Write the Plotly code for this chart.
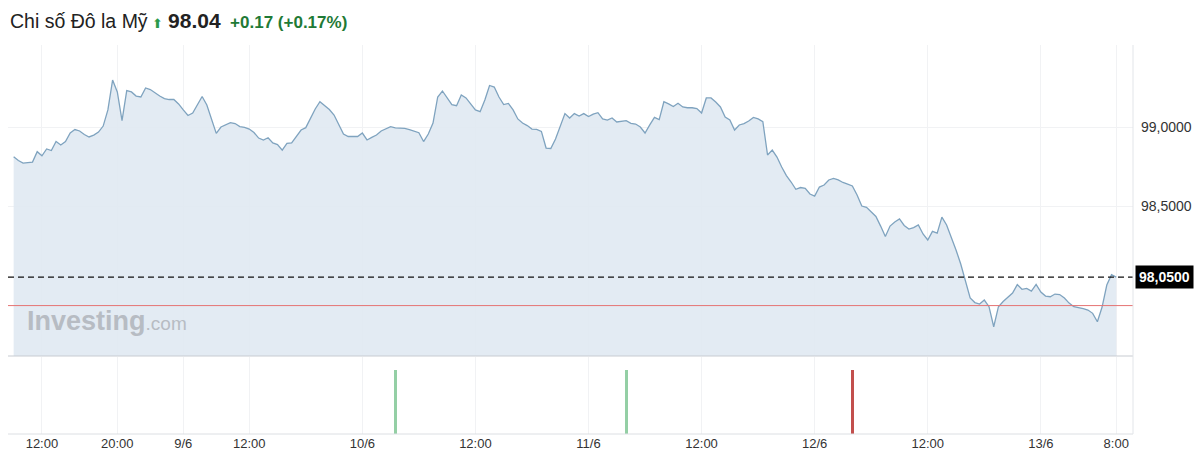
import plotly.graph_objects as go

# US Dollar Index, 30-minute closes; time axis in trading hours from Fri 6/6 12:00
values = [
    98.812, 98.788, 98.772, 98.775, 98.778, 98.844, 98.818, 98.861, 98.851, 98.908,
    98.886, 98.908, 98.962, 98.984, 98.975, 98.953, 98.937, 98.949, 98.968, 99.006,
    99.108, 99.297, 99.222, 99.040, 99.230, 99.222, 99.196, 99.190, 99.247, 99.237,
    99.215, 99.196, 99.180, 99.174, 99.174, 99.146, 99.108, 99.073, 99.089, 99.146,
    99.193, 99.139, 99.044, 98.960, 99.000, 99.016, 99.028, 99.022, 99.003, 98.998,
    98.987, 98.965, 98.930, 98.918, 98.932, 98.899, 98.889, 98.854, 98.897, 98.900,
    98.943, 98.981, 98.996, 99.057, 99.114, 99.160, 99.133, 99.111, 99.076, 99.013,
    98.956, 98.940, 98.940, 98.940, 98.962, 98.918, 98.934, 98.949, 98.975, 98.991,
    99.002, 98.994, 98.992, 98.992, 98.984, 98.975, 98.964, 98.908, 98.956, 99.025,
    99.190, 99.228, 99.184, 99.142, 99.135, 99.203, 99.184, 99.142, 99.108, 99.097,
    99.171, 99.263, 99.253, 99.190, 99.142, 99.149, 99.108, 99.051, 99.025, 99.009,
    98.987, 98.985, 98.972, 98.867, 98.864, 98.924, 99.000, 99.085, 99.057, 99.085,
    99.070, 99.085, 99.066, 99.082, 99.091, 99.051, 99.044, 99.057, 99.032, 99.035,
    99.040, 99.023, 99.019, 99.000, 98.962, 99.013, 99.061, 99.047, 99.160, 99.146,
    99.130, 99.150, 99.127, 99.122, 99.122, 99.117, 99.089, 99.184, 99.184, 99.158,
    99.127, 99.063, 99.044, 98.981, 99.013, 99.022, 99.038, 99.061, 99.051, 99.034,
    98.823, 98.854, 98.810, 98.747, 98.693, 98.652, 98.606, 98.617, 98.612, 98.576,
    98.563, 98.620, 98.633, 98.665, 98.675, 98.665, 98.649, 98.639, 98.627, 98.570,
    98.500, 98.492, 98.462, 98.434, 98.373, 98.307, 98.373, 98.399, 98.418, 98.377,
    98.354, 98.364, 98.380, 98.323, 98.285, 98.340, 98.329, 98.430, 98.380, 98.304,
    98.222, 98.133, 98.025, 97.918, 97.889, 97.880, 97.905, 97.863, 97.736, 97.863,
    97.896, 97.924, 97.949, 98.003, 97.973, 97.979, 97.962, 98.004, 97.956, 97.930,
    97.926, 97.943, 97.940, 97.918, 97.886, 97.863, 97.859, 97.851, 97.842, 97.821,
    97.768, 97.861, 98.000, 98.066, 98.050,
]
start_hour = -3.0
step_hours = 0.5
hours = [start_hour + step_hours * i for i in range(len(values))]

last_price = 98.05
prev_close = 97.87

tick_hours = [0, 8, 15, 22, 34, 46, 58, 70, 82, 94, 106, 114]
tick_labels = ["12:00", "20:00", "9/6", "12:00", "10/6", "12:00", "11/6",
               "12:00", "12/6", "12:00", "13/6", "8:00"]

y_ticks = [98.5, 99.0]
y_tick_labels = ["98,5000", "99,0000"]

vol_hours = [37.5, 62.0, 86.0]
vol_values = [1, 1, 1]
vol_colors = ["#94cfa5", "#94cfa5", "#c24f4d"]

FONT = "Liberation Sans, Arial, sans-serif"

fig = go.Figure()
fig.add_trace(go.Scatter(
    x=hours, y=values, mode="lines",
    line=dict(color="#7fa3bf", width=1.3),
    fill="tozeroy", fillcolor="rgba(224,233,242,0.9)",
    xaxis="x", yaxis="y", hoverinfo="skip", showlegend=False,
))
fig.add_trace(go.Bar(
    x=vol_hours, y=vol_values, width=0.32,
    marker=dict(color=vol_colors, line=dict(width=0)),
    xaxis="x2", yaxis="y2", hoverinfo="skip", showlegend=False,
))

xr = [-3.6, 115.78]
fig.update_layout(
    width=1200, height=475,
    margin=dict(l=8, r=65, t=45, b=41),
    paper_bgcolor="white", plot_bgcolor="white",
    font=dict(family=FONT, color="#333333"),
    xaxis=dict(domain=[0, 1], range=xr, anchor="y", tickvals=tick_hours,
               showticklabels=False, showgrid=True, gridcolor="#f1f2f4",
               gridwidth=1, zeroline=False, showline=False, ticks=""),
    xaxis2=dict(domain=[0, 1], range=xr, anchor="y2", tickvals=tick_hours,
                ticktext=tick_labels, showgrid=True, gridcolor="#f1f2f4",
                zeroline=False, showline=False, ticks="",
                tickfont=dict(size=13, color="#333333", family=FONT)),
    yaxis=dict(domain=[0.2005, 1], range=[97.551, 99.519], side="right",
               anchor="x", tickvals=y_ticks, ticktext=y_tick_labels,
               showgrid=True, gridcolor="#f1f2f4", zeroline=False,
               showline=False, ticks="", ticklabelstandoff=7,
               tickfont=dict(size=14, color="#333333", family=FONT)),
    yaxis2=dict(domain=[0, 0.198], range=[0, 1.2], anchor="x2",
                showticklabels=False, showgrid=False, zeroline=False,
                showline=False),
    bargap=0,
)

shapes = [
    dict(type="line", xref="paper", x0=0, x1=1, yref="y", y0=prev_close, y1=prev_close,
         line=dict(color="#e57373", width=1), layer="above"),
    dict(type="line", xref="paper", x0=0, x1=1, yref="y", y0=last_price, y1=last_price,
         line=dict(color="#111111", width=1.3, dash="6px,4px"), layer="above"),
    dict(type="line", xref="paper", x0=0, x1=1, yref="y domain", y0=0, y1=0,
         line=dict(color="#c8ccd2", width=1.2), layer="above"),
    dict(type="line", xref="paper", x0=0, x1=1, yref="y2 domain", y0=0, y1=0,
         line=dict(color="#dcdfe3", width=1), layer="above"),
    dict(type="line", xref="paper", x0=1, x1=1, yref="paper", y0=0, y1=1,
         line=dict(color="#e2e5e9", width=1), layer="above"),
]
fig.update_layout(shapes=shapes)

annotations = [
    dict(xref="paper", yref="paper", x=0, y=1.064, xanchor="left", yanchor="middle",
         showarrow=False, align="left",
         text=("<span style='font-size:19.5px'>Chi số Đô la Mỹ</span> "
               "<span style='color:#2a9a4a;font-size:13px'>⬆</span> "
               "<b><span style='font-size:21px'>98.04</span></b>  "
               "<span style='color:#1f7a36'><b>+0.17 (+0.17%)</b></span>"),
         font=dict(size=17, color="#222222", family=FONT)),
    dict(xref="paper", yref="paper", x=0.0151, y=0.29, xanchor="left", yanchor="middle",
         showarrow=False,
         text="<b>Investing</b><span style='font-size:19px'>.com</span>",
         font=dict(size=27, color="#b7bcc3", family=FONT)),
    dict(xref="paper", yref="y", x=1, y=last_price, xanchor="left", yanchor="middle",
         xshift=2, showarrow=False, text="<b>98,0500</b>",
         font=dict(size=14, color="white", family=FONT),
         bgcolor="#000000", borderpad=3),
]
fig.update_layout(annotations=annotations)

fig.write_html(
    "out.html",
    config={"displayModeBar": False},
    post_script="document.body.style.margin='0px';document.body.style.padding='0px';",
)
